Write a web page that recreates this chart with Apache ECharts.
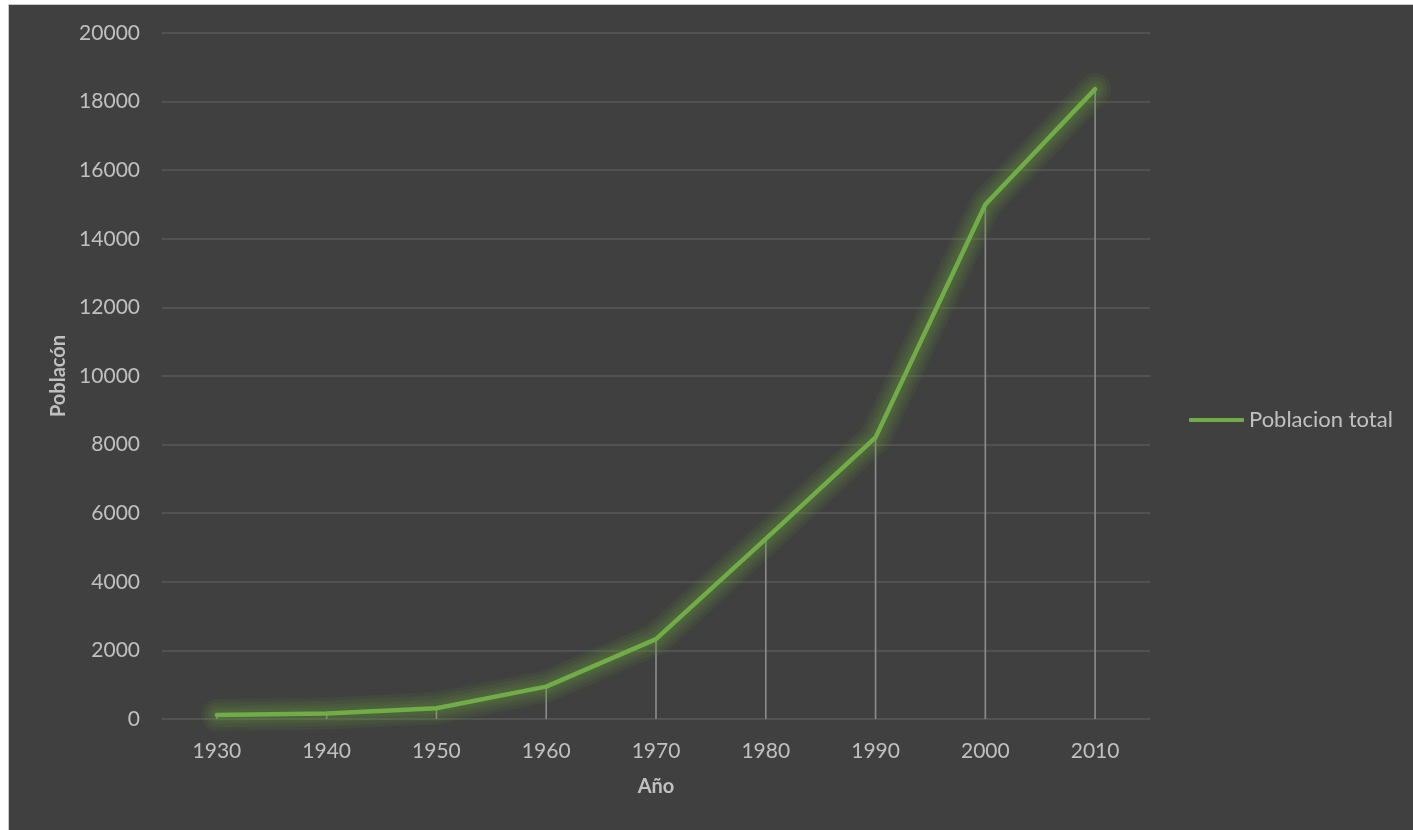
<!DOCTYPE html>
<html>
<head>
<meta charset="utf-8">
<title>Poblacion total</title>
<script src="https://cdn.jsdelivr.net/npm/echarts@6/dist/echarts.min.js"></script>
<style>
  html, body { margin: 0; padding: 0; background: #ffffff; }
  #wrap { position: absolute; left: 8px; top: 4px; width: 1405px; height: 826px;
          border-left: 1px solid #c8c8c8; border-top: 1px solid #c8c8c8; background: #404040; }
  #chart { width: 1405px; height: 826px; }
</style>
</head>
<body>
<div id="wrap"><div id="chart"></div></div>
<script>
// Años censales y población total
const years = ['1930', '1940', '1950', '1960', '1970', '1980', '1990', '2000', '2010'];
const population = [115, 160, 315, 945, 2330, 5250, 8210, 15000, 18365];
const seriesName = 'Poblacion total';
const xTitle = 'Año';
const yTitle = 'Poblacón';

const textColor = '#c0c0c0';
const fontFamily = 'Lato, "Open Sans", "Liberation Sans", sans-serif';

// capas del halo: anchos decrecientes, cada una semitransparente
const glowWidths = [32, 25, 18, 12];

const glowSeries = glowWidths.map(function (w, i) {
  return {
    name: 'glow' + i,
    type: 'line',
    data: population,
    showSymbol: false,
    symbol: 'none',
    silent: true,
    lineStyle: {
      color: 'rgba(112, 173, 71, 0.07)',
      width: w,
      cap: 'round',
      join: 'round',
      shadowColor: 'rgba(112, 173, 71, 0.6)',
      shadowBlur: 8
    },
    z: 2
  };
});

const chart = echarts.init(document.getElementById('chart'), null, { renderer: 'canvas' });
chart.setOption({
  backgroundColor: '#404040',
  animation: false,
  grid: { left: 153, right: 264, top: 28, bottom: 112 },
  legend: {
    data: [{ name: seriesName, icon: 'roundRect' }],
    orient: 'vertical',
    left: 1180,
    top: 404,
    padding: 0,
    itemWidth: 55,
    itemHeight: 4,
    itemGap: 5,
    textStyle: { color: textColor, fontSize: 22, fontFamily: fontFamily, padding: [0, 0, 0, 0] }
  },
  xAxis: {
    type: 'category',
    data: years,
    boundaryGap: true,
    name: xTitle,
    nameLocation: 'middle',
    nameGap: 58,
    nameTextStyle: { color: textColor, fontSize: 20, fontWeight: 'bold', fontFamily: fontFamily },
    axisLine: { show: false },
    axisTick: { show: false },
    axisLabel: { color: textColor, fontSize: 21, fontFamily: fontFamily, margin: 22 },
    splitLine: { show: false }
  },
  yAxis: {
    type: 'value',
    min: 0,
    max: 20000,
    interval: 2000,
    name: yTitle,
    nameLocation: 'middle',
    nameGap: 89,
    nameTextStyle: { color: textColor, fontSize: 20, fontWeight: 'bold', fontFamily: fontFamily },
    axisLine: { show: false },
    axisTick: { show: false },
    axisLabel: { color: textColor, fontSize: 21, fontFamily: fontFamily, margin: 22,
                 formatter: function (v) { return String(v); } },
    splitLine: { show: true, lineStyle: { color: '#585858', width: 1.5 } }
  },
  series: [
    {
      // líneas de caída desde cada punto hasta el eje
      name: 'drop',
      type: 'bar',
      data: population,
      barWidth: 1.6,
      itemStyle: { color: '#8c8c8c' },
      silent: true,
      z: 1,
      legendHoverLink: false
    }
  ].concat(glowSeries, [
    {
      name: seriesName,
      type: 'line',
      data: population,
      showSymbol: false,
      symbol: 'none',
      lineStyle: {
        color: '#70ad47',
        width: 4.5,
        cap: 'round',
        join: 'round'
      },
      itemStyle: { color: '#70ad47' },
      z: 3
    }
  ])
});
</script>
</body>
</html>
